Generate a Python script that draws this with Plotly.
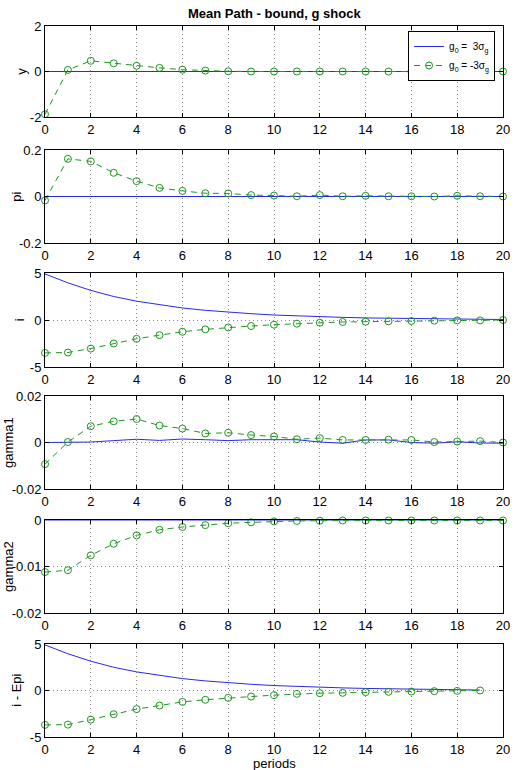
import plotly.graph_objects as go
from plotly.subplots import make_subplots

periods = list(range(21))

y_pos = [0.0] * 21
y_neg = [-1.88, 0.07, 0.47, 0.36, 0.25, 0.16, 0.08, 0.04, 0.01, 0.0, 0.0, 0.0, 0.0, 0.0, 0.0, 0.0, 0.0, 0.0, 0.0, 0.0, 0.0]

pi_pos = [0.0] * 21
pi_neg = [-0.017, 0.162, 0.151, 0.102, 0.066, 0.037, 0.024, 0.014, 0.013, 0.006, 0.004, 0.001, 0.006, 0.001, 0.003, 0.001, 0.001, 0.0, 0.003, 0.001, 0.0]

i_pos = [4.9, 3.95, 3.15, 2.5, 2.0, 1.6, 1.28, 1.03, 0.83, 0.67, 0.53, 0.43, 0.35, 0.28, 0.22, 0.18, 0.14, 0.11, 0.09, 0.07, 0.05]
i_neg = [-3.5, -3.46, -3.04, -2.5, -2.0, -1.61, -1.25, -1.0, -0.79, -0.64, -0.5, -0.39, -0.29, -0.21, -0.18, -0.14, -0.11, -0.07, -0.04, -0.04, 0.0]

g1_pos = [0.0, 0.0001, 0.0002, 0.0008, 0.0014, 0.0009, 0.0015, 0.0012, 0.0008, 0.0012, 0.0013, 0.0012, 0.0002, -0.0003, 0.0011, 0.0011, 0.0, -0.0003, 0.0003, -0.0002, -0.0003]
g1_neg = [-0.0093, 0.0002, 0.007, 0.0091, 0.0101, 0.0073, 0.006, 0.0039, 0.0042, 0.0032, 0.0026, 0.0014, 0.0019, 0.0011, 0.0011, 0.0012, 0.0011, 0.0002, 0.0004, 0.0006, 0.0]

g2_pos = [0.0] * 21
g2_neg = [-0.0112, -0.0108, -0.0076, -0.0051, -0.0033, -0.0021, -0.0015, -0.0011, -0.0007, -0.0005, -0.0003, -0.0002, -0.00015, -0.0001, -0.0001, -0.0001, -0.0001, -0.0001, -0.0001, -0.0001, -0.0001]

periods_r = list(range(20))
r_pos = [4.9, 3.95, 3.15, 2.5, 2.0, 1.6, 1.28, 1.03, 0.83, 0.67, 0.53, 0.43, 0.35, 0.28, 0.22, 0.18, 0.14, 0.11, 0.08, 0.05]
r_neg = [-3.7, -3.67, -3.13, -2.55, -2.0, -1.62, -1.22, -1.0, -0.79, -0.65, -0.5, -0.36, -0.29, -0.25, -0.18, -0.14, -0.11, -0.07, -0.04, 0.0]

ylabels = ["y", "pi", "i", "gamma1", "gamma2", "i - Epi"]
yranges = [[-2, 2], [-0.2, 0.2], [-5, 5], [-0.02, 0.02], [-0.02, 0], [-5, 5]]
yticks = [[-2, 0, 2], [-0.2, 0, 0.2], [-5, 0, 5], [-0.02, 0, 0.02], [-0.02, -0.01, 0], [-5, 0, 5]]
ytext = [["-2", "0", "2"], ["-0.2", "0", "0.2"], ["-5", "0", "5"], ["-0.02", "0", "0.02"], ["-0.02", "-0.01", "0"], ["-5", "0", "5"]]
xticks = list(range(0, 21, 2))

series = [
    (periods, y_pos, y_neg),
    (periods, pi_pos, pi_neg),
    (periods, i_pos, i_neg),
    (periods, g1_pos, g1_neg),
    (periods, g2_pos, g2_neg),
    (periods_r, r_pos, r_neg),
]

BLUE = "rgb(40,40,235)"
GREEN = "rgb(30,150,30)"
GRID = "rgb(140,140,140)"

fig = make_subplots(rows=6, cols=1)

for k, (xs, pos, neg) in enumerate(series):
    r = k + 1
    fig.add_trace(go.Scatter(x=xs, y=pos, mode="lines", line=dict(color=BLUE, width=1),
                             name="g<sub>0</sub> =  3σ<sub>g</sub>", showlegend=(k == 0),
                             cliponaxis=False), row=r, col=1)
    fig.add_trace(go.Scatter(x=xs, y=neg, mode="lines+markers",
                             line=dict(color=GREEN, width=1, dash="6px,5px"),
                             marker=dict(symbol="circle-open", size=7, color=GREEN, line=dict(width=1)),
                             name="g<sub>0</sub> = -3σ<sub>g</sub>", showlegend=(k == 0),
                             cliponaxis=False), row=r, col=1)

L, R, T, B = 45, 14, 26, 33
W = 522 - L - R
H = 770 - T - B
tops = [26, 150, 273, 396, 520, 644]
bots = [117, 243, 367, 489, 613, 737]
label_px = [21, 16, 20, 8, 8, 16]

def py(p):
    return (770 - B - p) / H

font = dict(family="Liberation Sans, Arial, sans-serif", size=13, color="black")

for k in range(6):
    ax = "" if k == 0 else str(k + 1)
    fig.layout["yaxis" + ax].update(
        domain=[py(bots[k]), py(tops[k])], range=yranges[k], tickvals=yticks[k], ticktext=ytext[k],
        showgrid=True, griddash="1px,3px", gridcolor=GRID, gridwidth=1, zeroline=False,
        showline=True, mirror="ticks", linecolor="black", linewidth=1, ticks="inside", ticklen=4,
        tickcolor="black", tickfont=font)
    fig.layout["xaxis" + ax].update(
        range=[0, 20], tickvals=xticks, showgrid=True, griddash="1px,3px", gridcolor=GRID,
        gridwidth=1, zeroline=False, showline=True, mirror="ticks", linecolor="black", linewidth=1,
        ticks="inside", ticklen=4, tickcolor="black", tickfont=font)
    ymid = py((tops[k] + bots[k]) / 2)
    fig.add_annotation(text=ylabels[k], xref="paper", yref="paper", x=(label_px[k] - L) / W, y=ymid,
                       textangle=-90, showarrow=False, font=font, xanchor="center", yanchor="middle")

fig.add_annotation(text="<b>Mean Path - bound, g shock</b>", xref="paper", yref="paper", x=0.5, y=1,
                   yshift=13, showarrow=False, font=dict(family="Liberation Sans, Arial, sans-serif", size=13, color="black"),
                   yanchor="middle")
fig.add_annotation(text="periods", xref="paper", yref="paper", x=0.5, y=0, yshift=-26, showarrow=False,
                   font=font, yanchor="middle")

fig.update_layout(
    width=522, height=770, margin=dict(l=L, r=R, t=T, b=B),
    plot_bgcolor="white", paper_bgcolor="white",
    showlegend=True,
    legend=dict(x=(500 - L) / W, y=py(31), xanchor="right", yanchor="top",
                bgcolor="white", bordercolor="black", borderwidth=1,
                font=dict(family="Liberation Sans, Arial, sans-serif", size=10, color="black"),
                itemwidth=30, tracegroupgap=0),
)

fig.write_html("out.html")
